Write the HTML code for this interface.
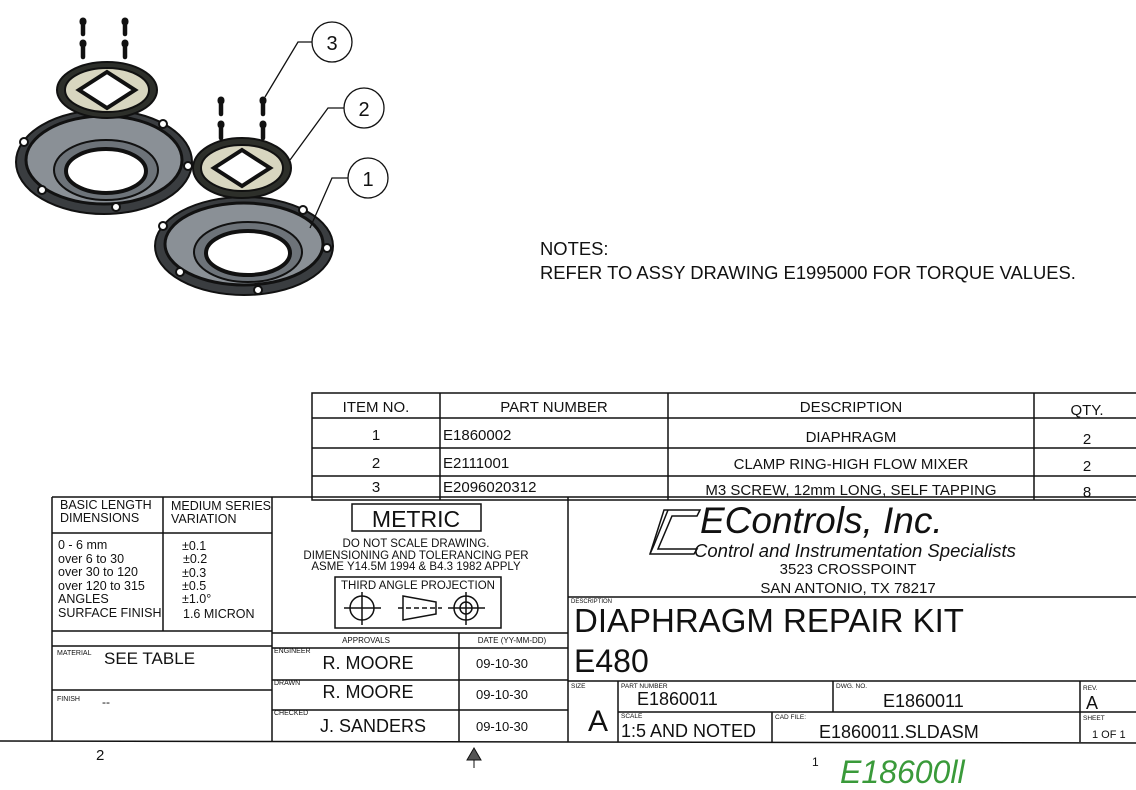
<!DOCTYPE html>
<html><head><meta charset="utf-8"><style>
html,body{margin:0;padding:0;background:#fff;}
svg{display:block;}
text{font-family:"Liberation Sans",sans-serif;fill:#111;}
</style></head><body>
<svg width="1136" height="790" viewBox="0 0 1136 790" xmlns="http://www.w3.org/2000/svg">
<g stroke="#111" stroke-width="2">
 <ellipse cx="104" cy="162" rx="88" ry="52" fill="#3a3d40"/>
 <ellipse cx="104" cy="160" rx="78" ry="44" fill="#8a9096" stroke-width="3"/>
 <ellipse cx="106" cy="170" rx="52" ry="30" fill="#6d7379"/>
 <ellipse cx="106" cy="171" rx="40" ry="22" fill="#fff" stroke-width="4"/>
 <ellipse cx="107" cy="90" rx="50" ry="28" fill="#2d2f2a"/>
 <ellipse cx="107" cy="90" rx="42" ry="22" fill="#d8d6c0"/>
 <polygon points="107,72 135,90 107,108 79,90" fill="#fff" stroke-width="4"/>
 <ellipse cx="244" cy="246" rx="89" ry="49" fill="#3a3d40"/>
 <ellipse cx="244" cy="244" rx="79" ry="41" fill="#8a9096" stroke-width="3"/>
 <ellipse cx="248" cy="252" rx="54" ry="30" fill="#6d7379"/>
 <ellipse cx="248" cy="253" rx="42" ry="22" fill="#fff" stroke-width="4"/>
 <ellipse cx="242" cy="168" rx="49" ry="30" fill="#2d2f2a"/>
 <ellipse cx="242" cy="168" rx="41" ry="23" fill="#d8d6c0"/>
 <polygon points="242,150 270,168 242,186 214,168" fill="#fff" stroke-width="4"/>
</g>
<g fill="#fff" stroke="#111" stroke-width="2">
 <circle cx="24" cy="142" r="4"/><circle cx="163" cy="124" r="4"/><circle cx="188" cy="166" r="4"/>
 <circle cx="42" cy="190" r="4"/><circle cx="116" cy="207" r="4"/>
 <circle cx="163" cy="226" r="4"/><circle cx="303" cy="210" r="4"/><circle cx="327" cy="248" r="4"/>
 <circle cx="180" cy="272" r="4"/><circle cx="258" cy="290" r="4"/>
</g>
<g stroke="#111" stroke-width="4.5" stroke-linecap="round">
 <line x1="83" y1="22" x2="83" y2="34"/><line x1="125" y1="22" x2="125" y2="34"/>
 <line x1="83" y1="44" x2="83" y2="57"/><line x1="125" y1="44" x2="125" y2="57"/>
 <line x1="221" y1="101" x2="221" y2="114"/><line x1="263" y1="101" x2="263" y2="114"/>
 <line x1="221" y1="125" x2="221" y2="138"/><line x1="263" y1="125" x2="263" y2="138"/>
</g>
<g stroke="#111" stroke-width="7" stroke-linecap="round">
 <line x1="83" y1="21" x2="83" y2="22"/><line x1="125" y1="21" x2="125" y2="22"/>
 <line x1="83" y1="43" x2="83" y2="44"/><line x1="125" y1="43" x2="125" y2="44"/>
 <line x1="221" y1="100" x2="221" y2="101"/><line x1="263" y1="100" x2="263" y2="101"/>
 <line x1="221" y1="124" x2="221" y2="125"/><line x1="263" y1="124" x2="263" y2="125"/>
</g>
<g stroke="#111" stroke-width="1.3" fill="none">
 <circle cx="332" cy="42" r="20" fill="#fff"/><circle cx="364" cy="108" r="20" fill="#fff"/><circle cx="368" cy="178" r="20" fill="#fff"/>
 <polyline points="312,42 298,42 265,97"/><polyline points="344,108 328,108 290,160"/><polyline points="348,178 332,178 310,228"/>
</g>
<text x="332" y="50" font-size="20" text-anchor="middle">3</text>
<text x="364" y="116" font-size="20" text-anchor="middle">2</text>
<text x="368" y="186" font-size="20" text-anchor="middle">1</text>
<text x="540" y="255" font-size="18.4">NOTES:</text>
<text x="540" y="279" font-size="18.4">REFER TO ASSY DRAWING E1995000 FOR TORQUE VALUES.</text>
<g stroke="#111" stroke-width="1.5" fill="none">
 <rect x="312" y="393" width="830" height="107"/>
 <line x1="312" y1="418" x2="1136" y2="418"/><line x1="312" y1="448" x2="1136" y2="448"/><line x1="312" y1="476" x2="1136" y2="476"/>
 <line x1="440" y1="393" x2="440" y2="500"/><line x1="668" y1="393" x2="668" y2="500"/><line x1="1034" y1="393" x2="1034" y2="500"/>
</g>
<g font-size="15" text-anchor="middle">
 <text x="376" y="412">ITEM NO.</text><text x="554" y="412">PART NUMBER</text><text x="851" y="412">DESCRIPTION</text><text x="1087" y="415">QTY.</text>
 <text x="376" y="440">1</text><text x="851" y="442">DIAPHRAGM</text><text x="1087" y="444">2</text>
 <text x="376" y="468">2</text><text x="851" y="469">CLAMP RING-HIGH FLOW MIXER</text><text x="1087" y="471">2</text>
 <text x="376" y="492">3</text><text x="851" y="495">M3 SCREW, 12mm LONG, SELF TAPPING</text><text x="1087" y="497">8</text>
</g>
<g font-size="15"><text x="443" y="440">E1860002</text><text x="443" y="468">E2111001</text><text x="443" y="492">E2096020312</text></g>
<g stroke="#111" stroke-width="1.5" fill="none">
 <line x1="52" y1="497" x2="1136" y2="497"/>
 <line x1="0" y1="741" x2="1136" y2="743"/>
 <line x1="52" y1="497" x2="52" y2="741"/>
 <line x1="163" y1="497" x2="163" y2="631"/>
 <line x1="52" y1="533" x2="272" y2="533"/>
 <line x1="52" y1="631" x2="272" y2="631"/>
 <line x1="52" y1="646" x2="272" y2="646"/>
 <line x1="52" y1="690" x2="272" y2="690"/>
 <line x1="272" y1="497" x2="272" y2="741"/>
 <line x1="272" y1="633" x2="568" y2="633"/>
 <line x1="272" y1="648" x2="568" y2="648"/>
 <line x1="272" y1="680" x2="568" y2="680"/>
 <line x1="272" y1="710" x2="568" y2="710"/>
 <line x1="459" y1="633" x2="459" y2="742"/>
 <line x1="568" y1="497" x2="568" y2="742"/>
 <rect x="352" y="504" width="129" height="27"/>
 <rect x="335" y="577" width="166" height="51"/>
 <line x1="568" y1="597" x2="1136" y2="597"/>
 <line x1="568" y1="681" x2="1136" y2="681"/>
 <line x1="618" y1="681" x2="618" y2="742"/>
 <line x1="618" y1="712" x2="1136" y2="712"/>
 <line x1="833" y1="681" x2="833" y2="712"/>
 <line x1="772" y1="712" x2="772" y2="742"/>
 <line x1="1080" y1="681" x2="1080" y2="742"/>
</g>
<g stroke="#111" stroke-width="1.5" fill="none">
 <circle cx="362" cy="608" r="12"/><line x1="344" y1="608" x2="381" y2="608"/><line x1="362" y1="592" x2="362" y2="625"/>
 <polygon points="403,596 436,602 436,614 403,620"/><line x1="398" y1="608" x2="442" y2="608" stroke-dasharray="5,3"/>
 <circle cx="466" cy="608" r="12"/><circle cx="466" cy="608" r="6"/><line x1="448" y1="608" x2="485" y2="608"/><line x1="466" y1="592" x2="466" y2="625"/>
</g>
<g font-size="12.5">
 <text x="60" y="509">BASIC LENGTH</text><text x="60" y="522">DIMENSIONS</text>
 <text x="171" y="510">MEDIUM SERIES</text><text x="171" y="523">VARIATION</text>
 <text x="58" y="549">0 - 6 mm</text><text x="58" y="563">over 6 to 30</text><text x="58" y="576">over 30 to 120</text>
 <text x="58" y="590">over 120 to 315</text><text x="58" y="603">ANGLES</text><text x="58" y="617">SURFACE FINISH</text>
 <text x="182" y="550">±0.1</text><text x="183" y="563">±0.2</text><text x="182" y="577">±0.3</text>
 <text x="182" y="590">±0.5</text><text x="182" y="603">±1.0°</text><text x="183" y="618">1.6 MICRON</text>
</g>
<text x="57" y="655" font-size="7">MATERIAL</text><text x="104" y="664" font-size="17">SEE TABLE</text>
<text x="57" y="701" font-size="7">FINISH</text><text x="102" y="706" font-size="12">--</text>
<text x="416" y="527" font-size="23" text-anchor="middle">METRIC</text>
<g font-size="11.5" text-anchor="middle">
 <text x="416" y="547">DO NOT SCALE DRAWING.</text>
 <text x="416" y="559">DIMENSIONING AND TOLERANCING PER</text>
 <text x="416" y="570">ASME Y14.5M 1994 &amp; B4.3 1982 APPLY</text>
 <text x="418" y="589">THIRD ANGLE PROJECTION</text>
</g>
<text x="366" y="643" font-size="8" text-anchor="middle">APPROVALS</text>
<text x="512" y="643" font-size="8" text-anchor="middle">DATE (YY-MM-DD)</text>
<g font-size="7"><text x="274" y="653">ENGINEER</text><text x="274" y="685">DRAWN</text><text x="274" y="715">CHECKED</text></g>
<g font-size="18" text-anchor="middle"><text x="368" y="669">R. MOORE</text><text x="368" y="698">R. MOORE</text><text x="373" y="732">J. SANDERS</text></g>
<g font-size="13" text-anchor="middle"><text x="502" y="668">09-10-30</text><text x="502" y="699">09-10-30</text><text x="502" y="731">09-10-30</text></g>
<g stroke="#111" stroke-width="1.5" fill="none">
 <polygon points="664,510 700,510 697,516 672,516 658,549 697,549 694,554 650,554"/>
 <polyline points="668,510 654,545 650,554"/>
</g>
<text x="700" y="533" font-size="37" font-style="italic">EControls, Inc.</text>
<text x="694" y="557" font-size="18.5" font-style="italic">Control and Instrumentation Specialists</text>
<text x="848" y="574" font-size="15" text-anchor="middle">3523 CROSSPOINT</text>
<text x="848" y="593" font-size="15" text-anchor="middle">SAN ANTONIO, TX 78217</text>
<text x="571" y="603" font-size="6">DESCRIPTION</text>
<text x="574" y="632" font-size="33">DIAPHRAGM REPAIR KIT</text>
<text x="574" y="672" font-size="32">E480</text>
<g font-size="6.5"><text x="571" y="688">SIZE</text><text x="621" y="688">PART NUMBER</text><text x="836" y="688">DWG. NO.</text><text x="1083" y="690">REV.</text><text x="621" y="718">SCALE</text><text x="775" y="719">CAD FILE:</text><text x="1083" y="720">SHEET</text></g>
<text x="598" y="731" font-size="30" text-anchor="middle">A</text>
<text x="637" y="705" font-size="18">E1860011</text>
<text x="883" y="707" font-size="18">E1860011</text>
<text x="1086" y="709" font-size="18">A</text>
<text x="621" y="737" font-size="18">1:5 AND NOTED</text>
<text x="819" y="738" font-size="18">E1860011.SLDASM</text>
<text x="1092" y="738" font-size="11">1 OF 1</text>
<text x="96" y="760" font-size="15">2</text>
<g stroke="#111" stroke-width="1"><line x1="474" y1="748" x2="474" y2="768"/><polygon points="474,748 467,760 481,760" fill="#555"/></g>
<text x="812" y="766" font-size="12">1</text>
<text x="840" y="783" font-size="32" font-style="italic" style="fill:#3a9a3a">E18600ll</text>
</svg>
</body></html>
